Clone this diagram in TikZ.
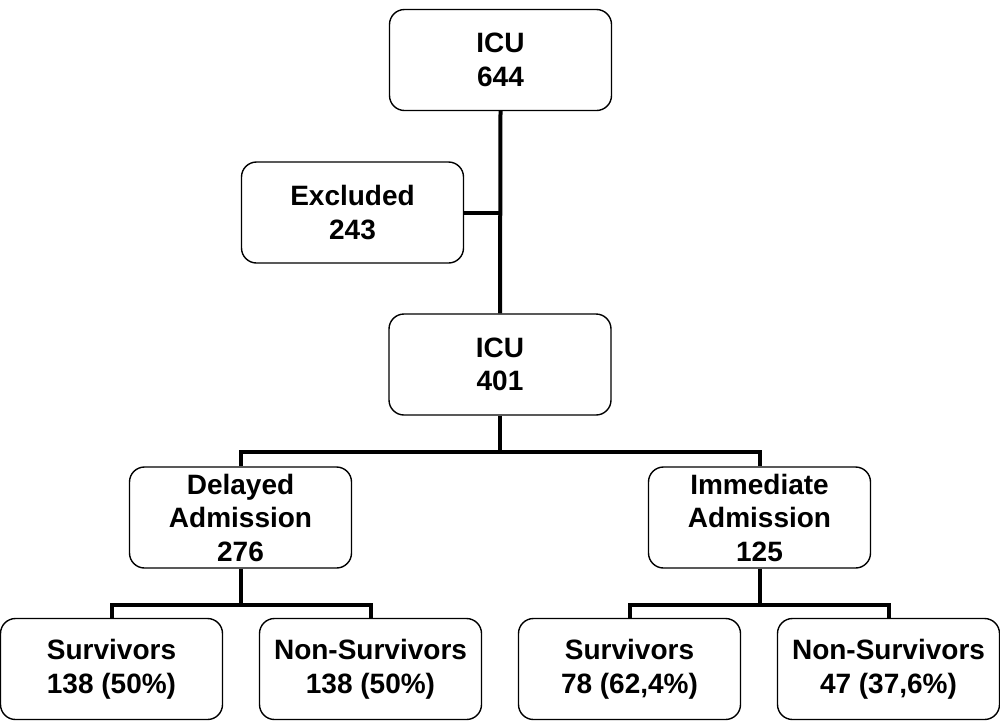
\documentclass[tikz,border=0pt]{standalone}
\usepackage{fontspec}
\setmainfont{Liberation Sans}
\begin{document}
\begin{tikzpicture}[x=1pt,y=-1pt,
  box/.style={draw=black,line width=1.4pt,rounded corners=15pt,align=center,
    inner sep=0pt,font=\fontsize{28}{33.5}\selectfont\bfseries},
  wide/.style={box,minimum width=222pt,minimum height=101pt},
  conn/.style={draw=black,line width=4pt}]
\useasboundingbox (0,0) rectangle (1000,721);
\node[wide] (icu1) at (500.5,60) {ICU\\644};
\node[wide] (excl) at (352.5,212.5) {Excluded\\243};
\node[wide] (icu2) at (500,364.5) {ICU\\401};
\node[wide] (del) at (240.5,517.5) {Delayed\\Admission\\276};
\node[wide] (imm) at (759.5,517.5) {Immediate\\Admission\\125};
\node[wide] (s1) at (111.5,669) {Survivors\\138 (50\%)};
\node[wide] (n1) at (370.5,669) {Non-Survivors\\138 (50\%)};
\node[wide] (s2) at (629.5,669) {Survivors\\78 (62,4\%)};
\node[wide] (n2) at (888.5,669) {Non-Survivors\\47 (37,6\%)};
\coordinate (j0) at (500,212.5);
\coordinate (j1) at (500,452);
\coordinate (j2) at (240.5,605);
\coordinate (j3) at (759.5,605);
\draw[conn] (icu1.south) -- (icu2.north);
\draw[conn] (excl.east) -- (j0);
\draw[conn] (icu2.south) -- (j1);
\draw[conn] (del.north) |- (j1) -| (imm.north);
\draw[conn] (del.south) -- (j2);
\draw[conn] (s1.north) |- (j2) -| (n1.north);
\draw[conn] (imm.south) -- (j3);
\draw[conn] (s2.north) |- (j3) -| (n2.north);
\end{tikzpicture}
\end{document}
